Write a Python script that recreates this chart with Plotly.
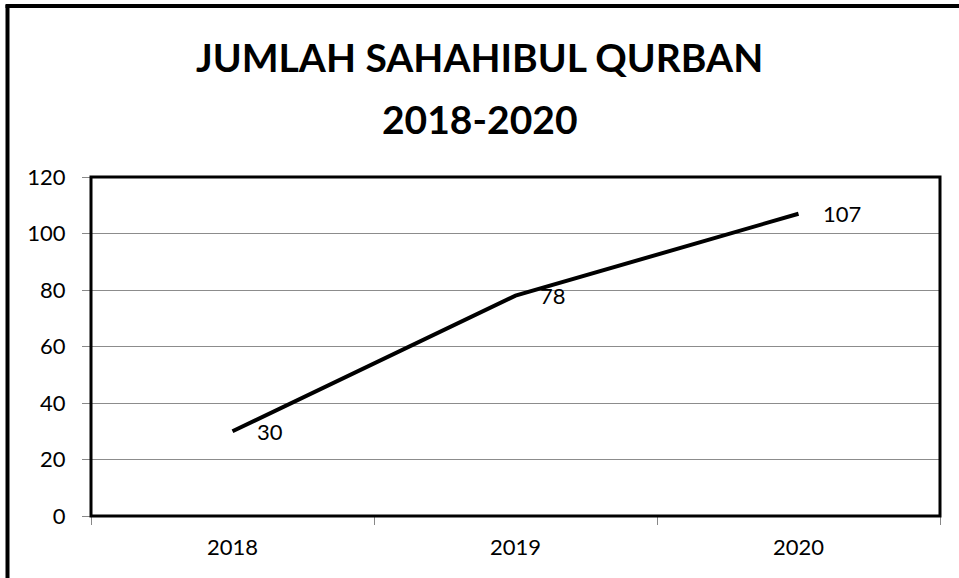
import plotly.graph_objects as go

years = ["2018", "2019", "2020"]
values = [30, 78, 107]
y_ticks = [0, 20, 40, 60, 80, 100, 120]
title_line1 = "JUMLAH SAHAHIBUL QURBAN"
title_line2 = "2018-2020"

W, H = 959, 578
ML, MR, MT, MB = 91, 19, 177, 62
PW, PH = W - ML - MR, H - MT - MB

def px_x(p):
    return (p - ML) / PW

def px_y(p):
    return (H - MB - p) / PH

FONT = "Lato, 'Open Sans', sans-serif"

fig = go.Figure()
fig.add_trace(go.Scatter(
    x=years, y=values, mode="lines",
    line=dict(color="black", width=4),
    hoverinfo="x+y", showlegend=False,
))

for i, v in enumerate(values):
    fig.add_annotation(
        x=i, y=v, xref="x", yref="y", text=str(v), showarrow=False,
        xanchor="left", yanchor="middle", xshift=22,
        font=dict(family=FONT, size=22, color="black"),
    )

fig.add_annotation(
    x=0.5 * (px_x(0) + px_x(W)), y=px_y(57), xref="paper", yref="paper",
    text=f"<b>{title_line1}</b>", showarrow=False,
    xanchor="center", yanchor="middle",
    font=dict(family=FONT, size=39, color="black"),
)
fig.add_annotation(
    x=0.5 * (px_x(0) + px_x(W)), y=px_y(119), xref="paper", yref="paper",
    text=f"<b>{title_line2}</b>", showarrow=False,
    xanchor="center", yanchor="middle",
    font=dict(family=FONT, size=39, color="black"),
)

# plot area border
fig.add_shape(type="rect", xref="paper", yref="paper", x0=0, y0=0, x1=1, y1=1,
              line=dict(color="black", width=3), layer="above")
# outer chart border (left and top visible)
fig.add_shape(type="line", xref="paper", yref="paper",
              x0=px_x(7.5), y0=px_y(5), x1=px_x(7.5), y1=px_y(H + 10),
              line=dict(color="black", width=4))
fig.add_shape(type="line", xref="paper", yref="paper",
              x0=px_x(5.5), y0=px_y(6), x1=px_x(W + 10), y1=px_y(6),
              line=dict(color="black", width=4))

fig.update_layout(
    width=W, height=H,
    margin=dict(l=ML, r=MR, t=MT, b=MB, pad=0),
    paper_bgcolor="white", plot_bgcolor="white",
    font=dict(family=FONT, size=22, color="black"),
    xaxis=dict(
        type="category", tickson="boundaries", ticks="outside", ticklen=8,
        tickcolor="#888888", tickwidth=1, showgrid=False, zeroline=False,
        showline=True, linecolor="#888888", linewidth=1,
        ticklabelstandoff=12, range=[-0.5, 2.5],
        tickfont=dict(family=FONT, size=22, color="black"),
    ),
    yaxis=dict(
        range=[0, 120], tickvals=y_ticks, ticktext=[str(t) for t in y_ticks],
        ticks="outside", ticklen=8, tickcolor="#888888", tickwidth=1,
        showgrid=True, gridcolor="#8c8c8c", gridwidth=1, zeroline=False,
        showline=True, linecolor="#888888", linewidth=1,
        ticklabelstandoff=12,
        tickfont=dict(family=FONT, size=22, color="black"),
    ),
)

fig.write_html("out.html",
               config={"displayModeBar": False},
               post_script="document.body.style.margin='0';document.body.style.overflow='hidden';")
